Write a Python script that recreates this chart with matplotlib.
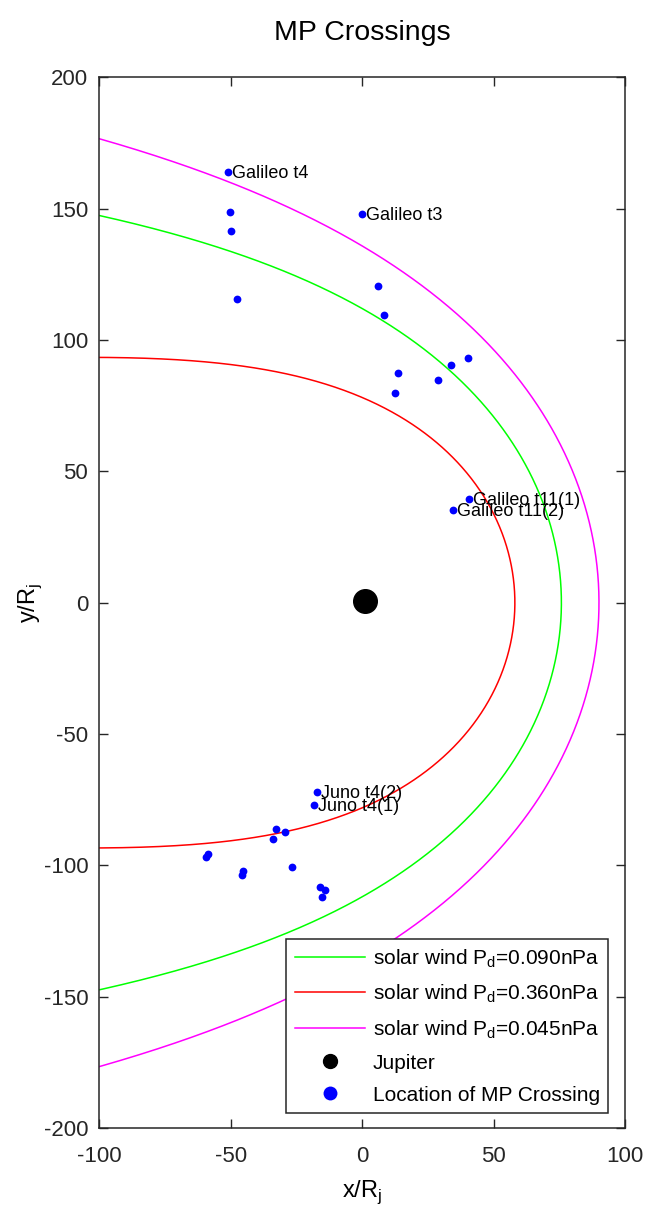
import numpy as np
import matplotlib
matplotlib.use('Agg')
import matplotlib.pyplot as plt

plt.rcParams['font.family'] = ['Liberation Sans', 'DejaVu Sans']
plt.rcParams['mathtext.fontset'] = 'custom'
plt.rcParams['mathtext.rm'] = 'Liberation Sans'
plt.rcParams['axes.unicode_minus'] = False

# magnetopause model curves (Shue-type: standoff distance r0, flaring alpha)
pd_labels = ['0.090', '0.360', '0.045']
r0_vals = [75.8, 58.1, 90.1]
alpha_vals = [0.563, 0.427, 0.592]
curve_colors = ['#00ff00', '#ff0000', '#ff00ff']

# MP crossing locations (x/Rj, y/Rj)
cross_x = [-51.2, -50.3, -49.9, -47.5, -0.1, 6.2, 8.5, 33.7, 40.3, 13.7, 29.0, 12.5,
           40.5, 34.4,
           -17.1, -18.2, -32.8, -29.3, -34.0, -58.7, -59.5, -45.2, -45.7, -26.8,
           -16.1, -14.1, -15.1]
cross_y = [164.0, 148.7, 141.4, 115.5, 147.9, 120.7, 109.5, 90.6, 93.2, 87.5, 84.8, 79.7,
           39.5, 35.4,
           -72.2, -77.0, -86.1, -87.3, -90.0, -95.6, -96.9, -102.0, -103.5, -100.7,
           -108.1, -109.4, -112.1]

# labelled crossings: (name, index into cross_x/cross_y)
labels = [('Galileo t4', 0), ('Galileo t3', 4), ('Galileo t11(1)', 12),
          ('Galileo t11(2)', 13), ('Juno t4(2)', 14), ('Juno t4(1)', 15)]

jup_x = [1.0]
jup_y = [0.5]

fig = plt.figure(figsize=(6.47, 12.12), dpi=100)
ax = fig.add_axes([0.1535, 0.0693, 0.8125, 0.8669])

theta = np.linspace(-0.98 * np.pi, 0.98 * np.pi, 2000)
for pd, r0, a, c in zip(pd_labels, r0_vals, alpha_vals, curve_colors):
  r = r0 * (2.0 / (1.0 + np.cos(theta))) ** a
  ax.plot(r * np.cos(theta), r * np.sin(theta), color=c, lw=1.1,
          label='solar wind P$_\\mathregular{d}$=' + pd + 'nPa')

ax.plot(jup_x, jup_y, 'o', color='black', ms=17, label='Jupiter')
ax.plot(cross_x, cross_y, 'o', color='#0000ff', ms=5.6, mec='none',
        label='Location of MP Crossing')

for name, i in labels:
  ax.annotate(name, (cross_x[i], cross_y[i]), xytext=(3, -1), textcoords='offset points',
              va='center', ha='left', fontsize=13, color='black')

ax.set_xlim(-100, 100)
ax.set_ylim(-200, 200)
ax.set_xticks(np.arange(-100, 101, 50))
ax.set_yticks(np.arange(-200, 201, 50))
ax.tick_params(direction='in', length=6.5, width=1, top=True, right=True,
               labelsize=16, colors='#262626')
ax.tick_params(axis='x', pad=13)
ax.tick_params(axis='y', pad=8)
for s in ax.spines.values():
  s.set_linewidth(1.1)
  s.set_color('#262626')

ax.set_title('MP Crossings', fontsize=20.5, pad=27, color='black')
ax.set_xlabel('x/R$_\\mathregular{j}$', fontsize=17, labelpad=8)
ax.set_ylabel('y/R$_\\mathregular{j}$', fontsize=17, labelpad=0)

leg = ax.legend(loc='lower right', bbox_to_anchor=(0.968, 0.0143), fontsize=15,
                frameon=True, fancybox=False, edgecolor='#262626', framealpha=1,
                handlelength=3.4, handletextpad=0.35, labelspacing=0.62,
                borderpad=0.4, borderaxespad=0, numpoints=1)
leg.get_frame().set_linewidth(1.1)
for h in leg.legend_handles:
  if h.get_marker() == 'o':
    h.set_markersize(10)

fig.savefig('out.png', dpi=100)
